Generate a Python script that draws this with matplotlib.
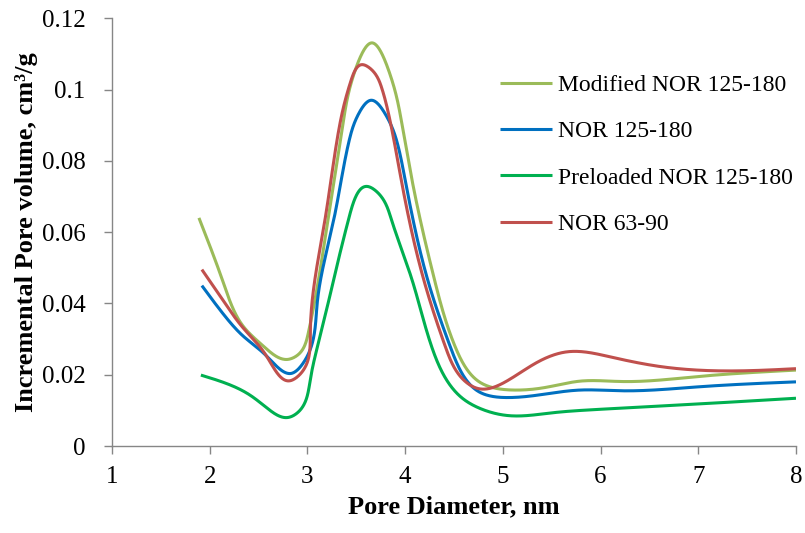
import matplotlib.pyplot as plt
import numpy as np

plt.rcParams['font.family'] = ['Liberation Serif', 'DejaVu Serif']

# pore diameter (nm) / incremental pore volume (cm3/g) for each sample
d_mod = [1.89, 2.14, 2.34, 2.55, 2.80, 2.92, 3.01, 3.21, 3.37, 3.49, 3.66, 3.83, 3.96, 4.07, 4.30,
         4.51, 4.77, 5.11, 5.45, 5.79, 6.20, 7.00, 8.00]
v_mod = [0.064, 0.0458, 0.0337, 0.028, 0.0243, 0.026, 0.0318, 0.0635, 0.0915, 0.1055, 0.1131, 0.1055, 0.0915,
         0.0747, 0.0467, 0.028, 0.0178, 0.0157, 0.0165, 0.0182, 0.0181, 0.0195, 0.0213]

d_nor = [1.92, 2.14, 2.34, 2.58, 2.84, 2.96, 3.10, 3.27, 3.43, 3.53, 3.65, 3.80, 3.92, 4.00, 4.23, 4.46,
         4.77, 5.07, 5.79, 6.20, 7.00, 8.00]
v_nor = [0.045, 0.037, 0.0309, 0.0253, 0.0204, 0.0234, 0.040, 0.0635, 0.086, 0.0935, 0.097, 0.093, 0.085,
         0.0747, 0.0467, 0.028, 0.015, 0.0136, 0.0157, 0.0155, 0.0166, 0.018]

d_pre = [1.91, 2.40, 2.58, 2.80, 2.92, 3.03, 3.13, 3.42, 3.62, 3.74, 3.86, 4.07, 4.27, 4.60, 4.77, 5.07,
         5.50, 5.93, 7.00, 8.00]
v_pre = [0.0199, 0.0145, 0.0108, 0.008, 0.0099, 0.0187, 0.0308, 0.0635, 0.0728, 0.0705, 0.0635, 0.0467, 0.028,
         0.0131, 0.0105, 0.0085, 0.0093, 0.0102, 0.0118, 0.0134]

d_63 = [1.92, 2.14, 2.34, 2.58, 2.82, 2.94, 3.03, 3.18, 3.33, 3.44, 3.56, 3.66, 3.76, 3.84, 3.96, 4.19,
        4.41, 4.60, 4.75, 5.07, 5.38, 5.65, 6.10, 6.61, 7.46, 8.00]
v_63 = [0.0495, 0.0407, 0.0332, 0.0253, 0.0183, 0.0206, 0.032, 0.0635, 0.090, 0.102, 0.107, 0.1055, 0.1005,
        0.092, 0.0747, 0.0467, 0.028, 0.0185, 0.0161, 0.0187, 0.0239, 0.0264, 0.025, 0.0223, 0.0211, 0.0217]

labels = ['Modified NOR 125-180', 'NOR 125-180', 'Preloaded NOR 125-180', 'NOR 63-90']
colors = ['#9BBB59', '#0070C0', '#00B050', '#C0504D']


def nat_spline(t, v, tt):
    n = len(t)
    h = np.diff(t)
    A = np.zeros((n, n))
    r = np.zeros(n)
    A[0, 0] = A[-1, -1] = 1
    for i in range(1, n - 1):
        A[i, i - 1] = h[i - 1]
        A[i, i] = 2 * (h[i - 1] + h[i])
        A[i, i + 1] = h[i]
        r[i] = 6 * ((v[i + 1] - v[i]) / h[i] - (v[i] - v[i - 1]) / h[i - 1])
    M = np.linalg.solve(A, r)
    k = np.clip(np.searchsorted(t, tt) - 1, 0, n - 2)
    a = t[k + 1] - tt
    b = tt - t[k]
    hk = h[k]
    return (M[k] * a ** 3 + M[k + 1] * b ** 3) / (6 * hk) + (v[k] / hk - M[k] * hk / 6) * a \
        + (v[k + 1] / hk - M[k + 1] * hk / 6) * b


def smooth(x, y):
    # parametric natural spline, chord length measured on screen scale
    sx, sy = 97.7, 3575.0
    px, py = np.array(x) * sx, np.array(y) * sy
    t = np.concatenate([[0], np.cumsum(np.hypot(np.diff(px), np.diff(py)))])
    tt = np.linspace(0, t[-1], 1500)
    return nat_spline(t, px, tt) / sx, nat_spline(t, py, tt) / sy


fig = plt.figure(figsize=(8.05, 5.33), dpi=100)
ax = fig.add_axes([0.1391, 0.1632, 0.8497, 0.8025])

for (d, v), lab, c in zip([(d_mod, v_mod), (d_nor, v_nor), (d_pre, v_pre), (d_63, v_63)], labels, colors):
    xs, ys = smooth(d, v)
    ax.plot(xs, ys, color=c, lw=2.2, label=lab, solid_capstyle='butt')

ax.set_xlim(1, 8)
ax.set_ylim(0, 0.12)
ax.set_xticks(range(1, 9))
ax.set_yticks([0, 0.02, 0.04, 0.06, 0.08, 0.1, 0.12])
ax.set_yticklabels(['0', '0.02', '0.04', '0.06', '0.08', '0.1', '0.12'])

for s in ['top', 'right']:
    ax.spines[s].set_visible(False)
for s in ['left', 'bottom']:
    ax.spines[s].set_color('#868686')
    ax.spines[s].set_linewidth(1.0)
ax.tick_params(colors='#868686', labelcolor='black', labelsize=18, length=6, width=1.0, direction='out')
ax.tick_params(axis='x', pad=8.5)
ax.tick_params(axis='y', pad=13)

ax.set_xlabel('Pore Diameter, nm', fontsize=19, fontweight='bold', labelpad=5)
ax.set_ylabel('Incremental Pore volume, cm³/g', fontsize=19, fontweight='bold', labelpad=3)

ax.legend(loc='upper left', bbox_to_anchor=(0.553, 0.891), frameon=False, fontsize=17,
          handlelength=2.2, handletextpad=0.25, labelspacing=1.05, borderaxespad=0)

fig.savefig('out.png', dpi=100)
